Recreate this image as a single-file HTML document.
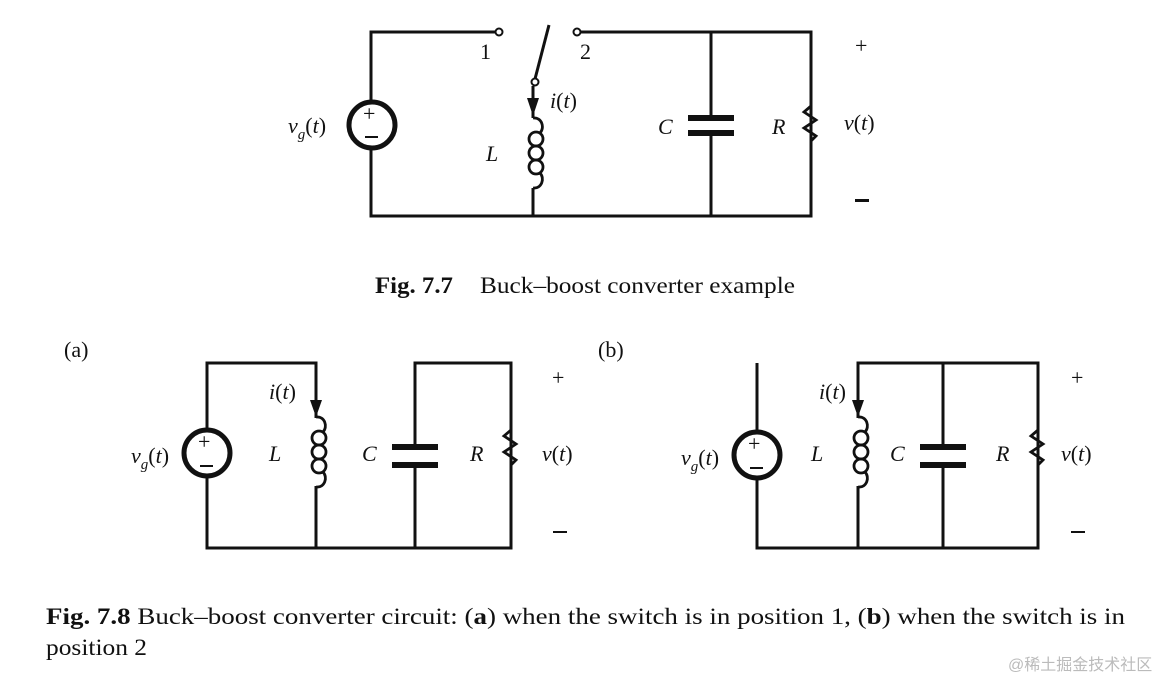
<!DOCTYPE html>
<html><head><meta charset="utf-8"><style>
body{margin:0;background:#fff;width:1175px;height:681px;overflow:hidden;}
svg{position:absolute;left:0;top:0}
text{font-family:"Liberation Serif",serif;fill:#111}
.i{font-style:italic}
</style></head><body>
<svg width="1175" height="681" viewBox="0 0 1175 681">
<defs>
<g id="coil" fill="none" stroke="#111" stroke-width="2.8">
<path d="M0,0 C9,-1 12,10 7,15"/>
<circle cx="3" cy="21" r="7"/>
<circle cx="3" cy="35" r="7"/>
<circle cx="3" cy="49" r="7"/>
<path d="M7,55 C12,60 9,71 0,70"/>
</g>
</defs>
<g stroke="#111" stroke-width="3" fill="none">
<!-- Fig 7.7 -->
<path d="M495,32 H371 V216 H811 V32 H581"/>
<circle cx="499" cy="32" r="3.5" fill="#fff" stroke-width="2"/>
<circle cx="577" cy="32" r="3.5" fill="#fff" stroke-width="2"/>
<line x1="535" y1="79" x2="549" y2="25"/>
<circle cx="535" cy="82" r="3.5" fill="#fff" stroke-width="2"/>
<path d="M533,86 V118 M533,188 V216"/>
<circle cx="372" cy="125" r="23" fill="#fff" stroke-width="5"/>
<path d="M711,32 V118 M711,133 V216"/>
<path d="M811,106 l-7,6 l12,8 l-12,8 l12,8 l-5,5 v3" stroke-width="2.8"/>
<!-- (a) -->
<path d="M316,418 V363 H207 V548 H511 V363 H415 V447 M415,465 V548"/>
<path d="M316,486 V548"/>
<circle cx="207" cy="453" r="23" fill="#fff" stroke-width="5"/>
<path d="M511,430 l-7,6 l12,8 l-12,8 l12,8 l-5,5 v3" stroke-width="2.8"/>
<!-- (b) -->
<path d="M757,363 V548 H1038 V363 H858 V418 M943,363 V447 M943,465 V548"/>
<path d="M858,486 V548"/>
<circle cx="757" cy="455" r="23" fill="#fff" stroke-width="5"/>
<path d="M1038,430 l-7,6 l12,8 l-12,8 l12,8 l-5,5 v3" stroke-width="2.8"/>
</g>
<use href="#coil" x="533" y="118"/>
<use href="#coil" x="316" y="417"/>
<use href="#coil" x="858" y="417"/>
<g fill="#111">
<rect x="688" y="115" width="46" height="6"/><rect x="688" y="130" width="46" height="6"/>
<rect x="392" y="444" width="46" height="6"/><rect x="392" y="462" width="46" height="6"/>
<rect x="920" y="444" width="46" height="6"/><rect x="920" y="462" width="46" height="6"/>
<polygon points="527,98 539,98 533,116"/>
<polygon points="310,400 322,400 316,417"/>
<polygon points="852,400 864,400 858,417"/>
<rect x="855" y="199" width="14" height="3"/>
<rect x="553" y="531" width="14" height="2"/>
<rect x="1071" y="531" width="14" height="2"/>
<rect x="365" y="136" width="13" height="2"/>
<rect x="200" y="465" width="13" height="2"/>
<rect x="750" y="467" width="13" height="2"/>
</g>
<g font-size="22">
<text x="363" y="121">+</text>
<text x="198" y="449">+</text>
<text x="748" y="451">+</text>
<text x="288" y="133" class="i">v<tspan font-size="15" dy="6">g</tspan><tspan dy="-6" font-style="normal">(</tspan>t<tspan font-style="normal">)</tspan></text>
<text x="480" y="59">1</text><text x="580" y="59">2</text>
<text x="550" y="108" class="i">i<tspan font-style="normal">(</tspan>t<tspan font-style="normal">)</tspan></text>
<text x="486" y="161" class="i">L</text>
<text x="658" y="134" class="i">C</text>
<text x="772" y="134" class="i">R</text>
<text x="844" y="130" class="i">v<tspan font-style="normal">(</tspan>t<tspan font-style="normal">)</tspan></text>
<text x="855" y="53">+</text>

<text x="64" y="357">(a)</text>
<text x="131" y="463" class="i">v<tspan font-size="15" dy="6">g</tspan><tspan dy="-6" font-style="normal">(</tspan>t<tspan font-style="normal">)</tspan></text>
<text x="269" y="399" class="i">i<tspan font-style="normal">(</tspan>t<tspan font-style="normal">)</tspan></text>
<text x="269" y="461" class="i">L</text>
<text x="362" y="461" class="i">C</text>
<text x="470" y="461" class="i">R</text>
<text x="542" y="461" class="i">v<tspan font-style="normal">(</tspan>t<tspan font-style="normal">)</tspan></text>
<text x="552" y="385">+</text>

<text x="598" y="357">(b)</text>
<text x="681" y="465" class="i">v<tspan font-size="15" dy="6">g</tspan><tspan dy="-6" font-style="normal">(</tspan>t<tspan font-style="normal">)</tspan></text>
<text x="819" y="399" class="i">i<tspan font-style="normal">(</tspan>t<tspan font-style="normal">)</tspan></text>
<text x="811" y="461" class="i">L</text>
<text x="890" y="461" class="i">C</text>
<text x="996" y="461" class="i">R</text>
<text x="1061" y="461" class="i">v<tspan font-style="normal">(</tspan>t<tspan font-style="normal">)</tspan></text>
<text x="1071" y="385">+</text>
</g>
<g font-size="23">
<text x="375" y="293" font-weight="bold" textLength="78" lengthAdjust="spacingAndGlyphs">Fig. 7.7</text>
<text x="480" y="293" textLength="315" lengthAdjust="spacingAndGlyphs">Buck–boost converter example</text>
<text x="46" y="624" textLength="1079" lengthAdjust="spacingAndGlyphs"><tspan font-weight="bold">Fig. 7.8</tspan>   Buck–boost converter circuit: (<tspan font-weight="bold">a</tspan>) when the switch is in position 1, (<tspan font-weight="bold">b</tspan>) when the switch is in</text>
<text x="46" y="655" textLength="101" lengthAdjust="spacingAndGlyphs">position 2</text>
</g>
<text x="1008" y="670" font-size="16" style="font-family:'Liberation Sans','Noto Sans CJK SC',sans-serif;fill:#bbb">@稀土掘金技术社区</text>
</svg>
</body></html>
